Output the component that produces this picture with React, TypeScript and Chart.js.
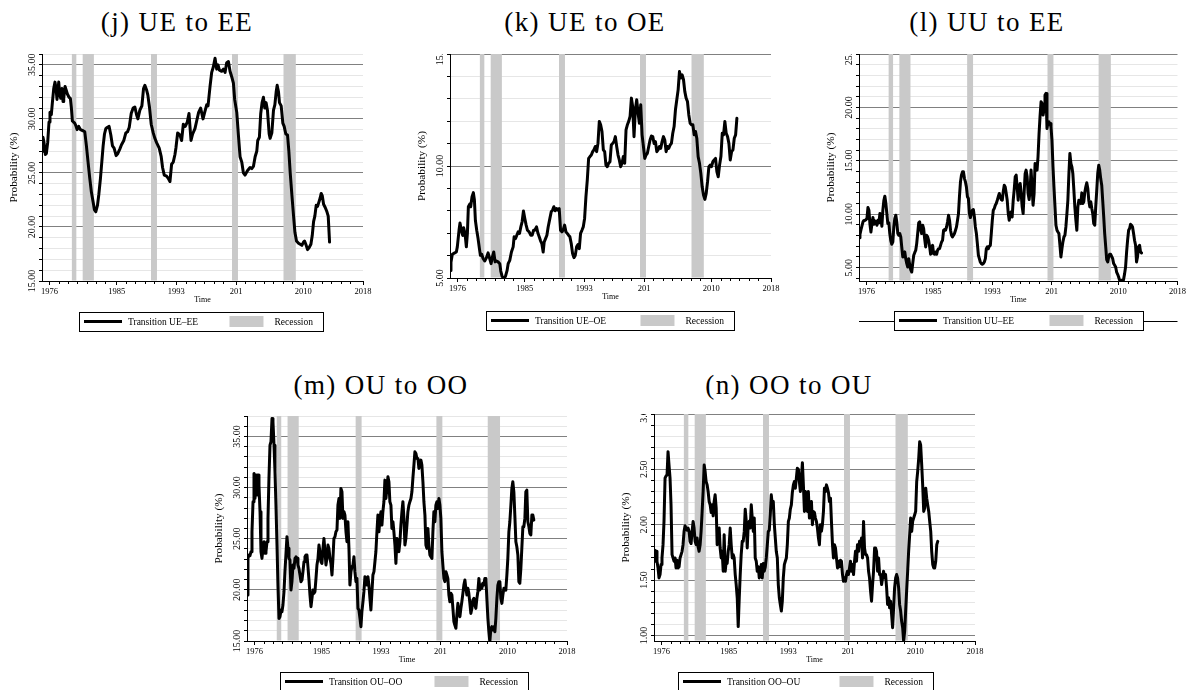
import React, { useEffect, useRef } from "react";
import { Chart, registerables } from "chart.js";
Chart.register(...registerables);

const FONT = "'Liberation Serif', 'Times New Roman', serif";
const RECESSION_COLOR = "#c9c9c9";
const MAJOR_GRID = "rgb(128,128,128)";
const MINOR_GRID = "rgb(230,230,230)";

// ---------------- shared axis data ----------------
const xTickYears = [1976, 1985, 1993, 2001, 2010, 2018];
const xTickLabels = ["1976", "1985", "1993", "201", "2010", "2018"];
const recessionStarts = [1979.0, 1980.45, 1989.6, 2000.45, 2007.35];
const recessionEnds = [1979.6, 1981.95, 1990.4, 2001.25, 2009.0];
const recessionLabel = "Recession";
const yAxisTitle = "Probability (%)";
const xAxisTitle = "Time";

// ---------------- (j) UE to EE ----------------
const ueEeYears = [
  1975.00, 1975.13, 1975.27, 1975.45, 1975.58, 1975.76, 1975.94, 1976.07, 1976.25, 1976.39,
  1976.57, 1976.74, 1976.88, 1977.01, 1977.24, 1977.37, 1977.51, 1977.68, 1977.82, 1977.91,
  1978.09, 1978.40, 1978.62, 1978.80, 1978.94, 1979.07, 1979.38, 1979.52, 1979.70, 1979.92,
  1980.15, 1980.50, 1980.73, 1980.95, 1981.17, 1981.40, 1981.62, 1981.85, 1982.02, 1982.20,
  1982.43, 1982.61, 1982.83, 1983.01, 1983.19, 1983.37, 1983.55, 1983.72, 1983.99, 1984.22,
  1984.44, 1984.66, 1984.93, 1985.16, 1985.42, 1985.65, 1985.96, 1986.23, 1986.45, 1986.68,
  1986.95, 1987.21, 1987.44, 1987.66, 1987.84, 1988.11, 1988.38, 1988.60, 1988.78, 1989.00,
  1989.18, 1989.41, 1989.63, 1989.90, 1990.12, 1990.35, 1990.70, 1990.97, 1991.15, 1991.38,
  1991.69, 1991.91, 1992.14, 1992.36, 1992.58, 1992.81, 1992.94, 1993.17, 1993.48, 1993.70,
  1993.93, 1994.19, 1994.46, 1994.69, 1994.96, 1995.18, 1995.49, 1995.72, 1995.98, 1996.25,
  1996.57, 1996.79, 1997.06, 1997.24, 1997.51, 1997.73, 1997.95, 1998.18, 1998.40, 1998.58,
  1998.76, 1999.07, 1999.30, 1999.52, 1999.74, 1999.97, 2000.19, 2000.41, 2000.64, 2000.81,
  2001.09, 2001.31, 2001.53, 2001.76, 2001.98, 2002.20, 2002.52, 2002.87, 2003.10, 2003.32,
  2003.55, 2003.77, 2003.90, 2004.12, 2004.30, 2004.48, 2004.66, 2004.84, 2005.02, 2005.20,
  2005.43, 2005.56, 2005.79, 2006.01, 2006.19, 2006.37, 2006.50, 2006.68, 2006.81, 2007.04,
  2007.26, 2007.44, 2007.66, 2007.89, 2008.07, 2008.25, 2008.47, 2008.70, 2008.88, 2009.09,
  2009.36, 2009.59, 2009.81, 2010.03, 2010.17, 2010.39, 2010.57, 2010.79, 2011.02, 2011.20,
  2011.38, 2011.55, 2011.73, 2011.91, 2012.09, 2012.27, 2012.40, 2012.54, 2012.72, 2012.94,
  2013.17, 2013.34, 2013.52,
];
const ueEeValues = [
  27.0, 28.3, 27.8, 26.7, 26.8, 27.8, 29.7, 30.6, 30.4, 31.5,
  32.8, 33.4, 32.8, 31.8, 33.4, 32.3, 31.9, 32.8, 31.6, 31.9,
  33.0, 32.3, 32.0, 31.9, 31.0, 29.8, 29.6, 29.4, 29.0, 29.3,
  29.0, 28.9, 28.8, 27.5, 26.0, 24.5, 23.2, 22.3, 21.6, 21.4,
  22.0, 23.0, 24.5, 26.0, 27.5, 28.6, 29.1, 29.2, 29.3, 28.5,
  27.5, 27.3, 26.6, 26.8, 27.2, 27.6, 28.0, 28.7, 28.8, 29.2,
  30.5, 31.0, 31.1, 30.4, 30.0, 30.8, 31.2, 32.8, 33.1, 32.7,
  32.2, 31.0, 29.5, 28.7, 28.2, 27.8, 27.3, 26.5, 25.5, 24.8,
  24.7, 24.5, 24.2, 25.8, 26.0, 26.7, 27.3, 28.7, 28.5, 28.0,
  29.5, 29.3, 29.7, 30.5, 28.0, 28.6, 29.1, 29.8, 30.6, 31.0,
  30.0, 30.6, 31.3, 31.2, 33.0, 34.3, 34.8, 35.6, 34.6, 35.0,
  34.5, 34.4, 34.6, 34.3, 35.2, 35.3, 34.4, 33.9, 33.3, 31.8,
  30.6, 28.5, 26.5, 26.0, 25.0, 24.8, 25.2, 25.5, 25.4, 25.6,
  26.5, 27.0, 28.0, 28.3, 30.5, 31.5, 32.0, 31.0, 31.5, 30.8,
  28.6, 28.2, 28.7, 30.8, 31.3, 32.5, 33.1, 32.5, 31.5, 31.2,
  29.6, 29.3, 28.6, 28.5, 27.0, 25.0, 23.0, 21.0, 19.5, 18.7,
  18.5, 18.4, 18.3, 18.6, 18.7, 18.3, 17.9, 18.1, 18.4, 19.2,
  20.5, 21.0, 22.0, 21.9, 22.3, 22.7, 23.1, 22.9, 22.1, 21.8,
  21.4, 21.0, 18.6,
];
const ueEeMajorTicks = [15, 20, 25, 30, 35];

// ---------------- (k) UE to OE ----------------
const ueOeYears = [
  1975.00, 1975.13, 1975.31, 1975.63, 1975.85, 1975.98, 1976.21, 1976.34, 1976.52, 1976.70,
  1976.83, 1977.01, 1977.19, 1977.33, 1977.46, 1977.64, 1977.77, 1977.95, 1978.13, 1978.27,
  1978.40, 1978.58, 1978.76, 1978.94, 1979.07, 1979.25, 1979.43, 1979.65, 1979.88, 1980.10,
  1980.32, 1980.50, 1980.68, 1980.86, 1981.04, 1981.22, 1981.44, 1981.67, 1981.80, 1981.98,
  1982.20, 1982.43, 1982.65, 1982.79, 1983.01, 1983.23, 1983.46, 1983.59, 1983.77, 1983.95,
  1984.13, 1984.31, 1984.49, 1984.66, 1984.84, 1985.02, 1985.20, 1985.38, 1985.60, 1985.83,
  1986.01, 1986.19, 1986.36, 1986.59, 1986.77, 1986.95, 1987.13, 1987.30, 1987.48, 1987.62,
  1987.80, 1987.98, 1988.15, 1988.38, 1988.56, 1988.74, 1988.91, 1989.09, 1989.27, 1989.45,
  1989.63, 1989.81, 1989.99, 1990.17, 1990.35, 1990.53, 1990.70, 1990.88, 1991.06, 1991.24,
  1991.42, 1991.60, 1991.78, 1991.96, 1992.14, 1992.32, 1992.49, 1992.67, 1992.85, 1993.03,
  1993.21, 1993.39, 1993.57, 1993.75, 1993.93, 1994.11, 1994.28, 1994.46, 1994.64, 1994.82,
  1995.00, 1995.18, 1995.36, 1995.54, 1995.72, 1995.89, 1996.07, 1996.25, 1996.43, 1996.61,
  1996.79, 1996.97, 1997.15, 1997.33, 1997.51, 1997.68, 1997.86, 1998.04, 1998.22, 1998.40,
  1998.58, 1998.76, 1998.94, 1999.12, 1999.30, 1999.47, 1999.65, 1999.83, 2000.01, 2000.19,
  2000.37, 2000.55, 2000.73, 2000.91, 2001.09, 2001.26, 2001.44, 2001.62, 2001.80, 2001.98,
  2002.16, 2002.34, 2002.52, 2002.70, 2002.87, 2003.05, 2003.23, 2003.41, 2003.59, 2003.77,
  2003.95, 2004.13, 2004.31, 2004.49, 2004.66, 2004.84, 2005.02, 2005.20, 2005.38, 2005.56,
  2005.74, 2005.92, 2006.10, 2006.28, 2006.45, 2006.63, 2006.81, 2006.99, 2007.17, 2007.35,
  2007.53, 2007.71, 2007.89, 2008.06, 2008.24, 2008.42, 2008.60, 2008.78, 2008.96, 2009.14,
  2009.32, 2009.50, 2009.68, 2009.85, 2010.03, 2010.21, 2010.39, 2010.57, 2010.75, 2010.93,
  2011.11, 2011.29, 2011.47, 2011.64, 2011.82, 2012.00, 2012.18, 2012.36, 2012.54, 2012.72,
  2012.90, 2013.08, 2013.26, 2013.43,
];
const ueOeValues = [
  5.34, 5.70, 6.06, 6.12, 6.16, 6.39, 7.13, 7.46, 7.13, 6.90,
  7.24, 6.99, 6.39, 6.99, 8.18, 8.30, 8.18, 8.63, 8.81, 8.48,
  7.58, 7.13, 6.76, 6.31, 6.01, 6.06, 5.87, 5.76, 5.90, 6.12,
  5.87, 5.64, 5.94, 6.16, 5.72, 5.76, 5.72, 5.64, 5.31, 5.07,
  5.00, 5.07, 5.34, 5.64, 5.79, 6.16, 6.39, 6.84, 6.76, 6.91,
  7.06, 6.99, 7.28, 7.51, 7.99, 7.66, 7.36, 7.13, 7.06, 6.91,
  6.91, 7.13, 7.13, 7.28, 7.01, 6.84, 6.66, 6.54, 6.16, 6.61,
  6.76, 6.91, 7.28, 7.66, 7.96, 8.03, 8.18, 8.00, 8.10, 8.03,
  8.10, 7.13, 7.06, 7.16, 7.36, 7.06, 6.99, 6.91, 6.84, 6.54,
  6.09, 5.91, 6.01, 6.39, 6.49, 6.31, 6.99, 7.13, 7.28, 7.66,
  8.63, 9.37, 10.34, 10.42, 10.49, 10.64, 10.72, 10.87, 10.64, 11.01,
  11.99, 11.84, 11.54, 10.72, 10.64, 10.04, 9.97, 10.12, 10.19, 10.94,
  11.01, 11.09, 11.31, 10.87, 10.49, 10.27, 9.97, 10.12, 10.42, 10.12,
  11.61, 11.84, 11.99, 12.21, 13.03, 12.66, 11.31, 12.51, 12.96, 12.36,
  11.91, 12.73, 11.39, 10.87, 10.34, 10.49, 10.57, 10.87, 11.16, 11.34,
  11.31, 11.01, 11.09, 10.64, 10.72, 10.87, 10.79, 11.09, 11.31, 11.16,
  10.64, 10.87, 10.79, 10.94, 11.01, 11.46, 11.76, 12.51, 12.96, 13.40,
  14.22, 13.93, 14.07, 13.85, 13.33, 13.03, 12.88, 12.28, 11.91, 11.84,
  11.84, 11.39, 11.54, 11.24, 10.42, 10.12, 9.67, 9.07, 8.70, 8.51,
  8.78, 9.30, 9.97, 10.04, 9.97, 10.19, 10.27, 10.34, 9.75, 9.52,
  10.04, 10.42, 11.46, 11.39, 11.99, 11.46, 11.31, 11.01, 10.27, 10.64,
  10.72, 11.24, 11.39, 12.13,
];
const ueOeMajorTicks = [5, 10, 15];

// ---------------- sampling dates shared by (l), (m), (n) ----------------
const gridYears = [
  1975.00, 1975.13, 1975.27, 1975.40, 1975.54, 1975.67, 1975.81, 1975.94, 1976.07, 1976.21,
  1976.34, 1976.48, 1976.61, 1976.75, 1976.88, 1977.01, 1977.15, 1977.28, 1977.42, 1977.55,
  1977.69, 1977.82, 1977.95, 1978.09, 1978.22, 1978.36, 1978.49, 1978.63, 1978.76, 1978.89,
  1979.03, 1979.16, 1979.30, 1979.43, 1979.57, 1979.70, 1979.83, 1979.97, 1980.10, 1980.24,
  1980.37, 1980.51, 1980.64, 1980.77, 1980.91, 1981.04, 1981.18, 1981.31, 1981.45, 1981.58,
  1981.72, 1981.85, 1981.98, 1982.12, 1982.25, 1982.39, 1982.52, 1982.66, 1982.79, 1982.92,
  1983.06, 1983.19, 1983.33, 1983.46, 1983.60, 1983.73, 1983.86, 1984.00, 1984.13, 1984.27,
  1984.40, 1984.54, 1984.67, 1984.80, 1984.94, 1985.07, 1985.21, 1985.34, 1985.48, 1985.61,
  1985.74, 1985.88, 1986.01, 1986.15, 1986.28, 1986.42, 1986.55, 1986.68, 1986.82, 1986.95,
  1987.09, 1987.22, 1987.36, 1987.49, 1987.62, 1987.76, 1987.89, 1988.03, 1988.16, 1988.30,
  1988.43, 1988.56, 1988.70, 1988.83, 1988.97, 1989.10, 1989.24, 1989.37, 1989.50, 1989.64,
  1989.77, 1989.91, 1990.04, 1990.18, 1990.31, 1990.44, 1990.58, 1990.71, 1990.85, 1990.98,
  1991.12, 1991.25, 1991.38, 1991.52, 1991.65, 1991.79, 1991.92, 1992.06, 1992.19, 1992.32,
  1992.46, 1992.59, 1992.73, 1992.86, 1993.00, 1993.13, 1993.26, 1993.40, 1993.53, 1993.67,
  1993.80, 1993.94, 1994.07, 1994.20, 1994.34, 1994.47, 1994.61, 1994.74, 1994.88, 1995.01,
  1995.15, 1995.28, 1995.41, 1995.55, 1995.68, 1995.82, 1995.95, 1996.09, 1996.22, 1996.35,
  1996.49, 1996.62, 1996.76, 1996.89, 1997.03, 1997.16, 1997.29, 1997.43, 1997.56, 1997.70,
  1997.83, 1997.97, 1998.10, 1998.23, 1998.37, 1998.50, 1998.64, 1998.77, 1998.91, 1999.04,
  1999.17, 1999.31, 1999.44, 1999.58, 1999.71, 1999.85, 1999.98, 2000.11, 2000.25, 2000.38,
  2000.52, 2000.65, 2000.79, 2000.92, 2001.05, 2001.19, 2001.32, 2001.46, 2001.59, 2001.73,
  2001.86, 2001.99, 2002.13, 2002.26, 2002.40, 2002.53, 2002.67, 2002.80, 2002.93, 2003.07,
  2003.20, 2003.34, 2003.47, 2003.61, 2003.74, 2003.87, 2004.01, 2004.14, 2004.28, 2004.41,
  2004.55, 2004.68, 2004.81, 2004.95, 2005.08, 2005.22, 2005.35, 2005.49, 2005.62, 2005.75,
  2005.89, 2006.02, 2006.16, 2006.29, 2006.43, 2006.56, 2006.69, 2006.83, 2006.96, 2007.10,
  2007.23, 2007.37, 2007.50, 2007.63, 2007.77, 2007.90, 2008.04, 2008.17, 2008.31, 2008.44,
  2008.58, 2008.71, 2008.84, 2008.98, 2009.11, 2009.25, 2009.38, 2009.52, 2009.65, 2009.78,
  2009.92, 2010.05, 2010.19, 2010.32, 2010.46, 2010.59, 2010.72, 2010.86, 2010.99, 2011.13,
  2011.26, 2011.40, 2011.53, 2011.66, 2011.80, 2011.93, 2012.07, 2012.20, 2012.34, 2012.47,
  2012.60, 2012.74, 2012.88, 2013.01, 2013.14, 2013.28, 2013.41, 2013.54,
];

// ---------------- (l) UU to EE ----------------
const uuEeValues = [
  7.81, 8.10, 8.55, 8.90, 9.28, 9.42, 9.41, 9.50, 9.59, 10.63,
  10.38, 9.06, 8.34, 9.13, 9.69, 9.06, 9.38, 9.28, 8.97, 9.44,
  9.19, 10.06, 9.59, 8.88, 10.38, 11.31, 11.69, 11.00, 10.06, 9.13,
  9.19, 8.19, 7.50, 7.19, 7.41, 8.81, 9.59, 9.91, 9.28, 8.19,
  8.03, 8.19, 7.88, 6.94, 6.00, 6.31, 6.47, 5.84, 5.38, 5.06,
  5.84, 5.22, 4.81, 4.59, 5.38, 6.16, 6.40, 6.63, 7.25, 8.19,
  9.19, 9.28, 8.56, 8.19, 8.97, 8.66, 7.72, 6.94, 8.03, 7.88,
  7.56, 6.94, 6.25, 6.78, 7.09, 6.31, 6.25, 6.47, 6.25, 6.63,
  6.78, 6.78, 7.09, 7.41, 7.56, 8.50, 8.56, 8.50, 8.81, 9.28,
  9.91, 9.44, 8.50, 8.03, 7.88, 8.03, 8.19, 8.50, 8.81, 9.44,
  10.06, 11.63, 13.03, 13.66, 13.97, 13.97, 13.34, 13.03, 12.56, 11.63,
  11.47, 10.06, 9.69, 10.06, 10.38, 10.44, 9.75, 8.81, 8.19, 7.25,
  6.16, 5.84, 5.53, 5.38, 5.31, 5.38, 5.53, 5.84, 6.78, 6.94,
  6.78, 7.00, 7.09, 8.19, 9.44, 10.38, 10.53, 10.84, 11.00, 11.31,
  11.63, 11.94, 11.63, 11.38, 11.31, 12.09, 12.72, 12.56, 11.94, 11.31,
  10.06, 9.44, 10.06, 10.22, 9.75, 11.31, 12.25, 13.50, 13.66, 12.56,
  11.31, 12.56, 12.88, 11.94, 10.69, 10.06, 11.94, 13.81, 14.13, 13.50,
  11.94, 11.38, 12.25, 14.13, 12.56, 10.84, 11.94, 14.75, 14.59, 14.13,
  15.38, 17.56, 19.13, 20.53, 20.38, 19.28, 19.75, 21.16, 21.31, 18.03,
  18.66, 18.44, 18.50, 18.19, 16.94, 14.44, 12.56, 10.69, 8.97, 8.50,
  8.34, 8.19, 7.09, 6.00, 6.78, 7.41, 7.88, 8.03, 8.81, 10.06,
  11.31, 13.81, 15.69, 14.75, 14.44, 13.81, 12.25, 10.69, 9.44, 8.50,
  10.69, 11.31, 11.16, 11.00, 12.00, 11.00, 11.16, 12.09, 12.56, 12.94,
  12.41, 11.31, 10.69, 11.16, 10.53, 10.06, 9.13, 8.97, 10.69, 12.25,
  13.81, 14.59, 14.13, 13.34, 12.72, 11.31, 9.75, 8.19, 6.94, 5.75,
  5.53, 6.00, 6.25, 6.25, 6.06, 5.84, 5.38, 5.22, 5.06, 4.59,
  4.38, 4.13, 3.81, 3.75, 3.81, 3.66, 3.88, 4.44, 5.06, 6.47,
  7.56, 8.50, 8.66, 9.06, 8.97, 8.81, 8.19, 7.56, 7.09, 5.53,
  6.00, 6.94, 7.09, 6.47, 6.38,
];
const uuEeMajorTicks = [5, 10, 15, 20, 25];

// ---------------- (m) OU to OO ----------------
const ouOoValues = [
  19.50, 23.08, 23.40, 23.34, 23.73, 25.68, 28.62, 31.38, 28.94, 31.22,
  29.27, 31.22, 30.24, 27.64, 23.73, 23.08, 24.06, 24.71, 23.57, 23.73,
  24.71, 26.99, 30.90, 34.15, 34.48, 36.76, 36.43, 34.15, 31.55, 28.29,
  24.38, 20.47, 17.21, 17.38, 18.03, 17.87, 18.52, 19.82, 21.78, 23.57,
  25.20, 24.06, 23.08, 22.92, 19.98, 20.80, 22.43, 22.10, 23.08, 23.24,
  23.08, 22.43, 22.10, 21.45, 20.80, 20.96, 21.78, 22.75, 23.24, 23.40,
  23.40, 22.26, 20.96, 19.50, 18.36, 19.17, 19.98, 19.66, 19.82, 21.12,
  22.43, 23.08, 24.38, 23.73, 22.75, 22.59, 24.06, 25.03, 23.73, 22.43,
  23.08, 24.38, 24.06, 23.08, 22.59, 21.45, 23.08, 25.03, 25.20, 25.68,
  25.85, 28.29, 28.94, 26.99, 29.92, 29.59, 26.99, 27.64, 27.31, 25.68,
  24.71, 26.66, 24.06, 20.47, 21.78, 22.26, 22.43, 23.24, 21.78, 20.80,
  21.12, 18.19, 18.03, 17.21, 16.40, 17.87, 18.84, 19.82, 21.29, 21.12,
  20.47, 21.29, 20.47, 19.17, 18.03, 19.82, 21.45, 21.78, 22.75, 23.73,
  25.68, 27.31, 25.68, 26.99, 27.64, 26.34, 27.64, 28.62, 30.73, 28.94,
  29.92, 31.06, 30.57, 28.62, 28.29, 26.01, 26.66, 25.68, 24.38, 22.59,
  25.03, 24.71, 23.73, 24.71, 26.34, 27.64, 28.62, 26.99, 24.38, 25.03,
  26.34, 27.64, 28.29, 28.62, 28.94, 29.59, 30.90, 32.20, 33.50, 33.34,
  32.85, 32.85, 31.87, 32.36, 32.69, 32.20, 30.57, 28.62, 27.31, 24.38,
  24.06, 26.01, 24.38, 23.40, 23.24, 23.08, 25.68, 27.64, 26.66, 28.29,
  28.62, 27.96, 28.94, 28.29, 26.99, 23.73, 22.43, 21.12, 20.80, 21.78,
  21.45, 21.12, 19.50, 18.84, 19.66, 19.50, 18.19, 16.89, 16.56, 16.24,
  17.54, 18.68, 17.87, 17.38, 18.19, 18.84, 19.66, 20.47, 20.96, 20.15,
  19.50, 20.15, 19.66, 18.68, 17.70, 18.19, 19.01, 19.17, 18.52, 18.19,
  19.17, 19.82, 21.12, 19.98, 20.47, 20.15, 20.64, 20.47, 21.12, 21.12,
  19.17, 17.21, 15.91, 14.93, 16.24, 16.40, 16.07, 16.40, 15.91, 17.21,
  19.17, 20.47, 20.80, 20.80, 19.17, 18.68, 19.50, 20.15, 20.15, 19.98,
  21.45, 23.08, 25.68, 26.66, 28.29, 29.92, 30.57, 29.59, 27.31, 24.71,
  24.22, 23.40, 20.80, 20.64, 22.10, 24.06, 26.17, 26.17, 26.99, 29.59,
  29.75, 26.66, 26.17, 25.52, 25.36, 27.31, 27.31, 26.82,
];
const ouOoMajorTicks = [15, 20, 25, 30, 35];

// ---------------- (n) OO to OU ----------------
const ooOuValues = [
  1.67, 1.77, 1.76, 1.67, 1.61, 1.52, 1.55, 1.64, 1.70, 1.82,
  2.03, 2.42, 2.44, 2.45, 2.66, 2.54, 2.42, 2.18, 1.73, 1.70,
  1.67, 1.70, 1.61, 1.68, 1.61, 1.62, 1.70, 1.73, 1.76, 1.82,
  1.94, 1.99, 1.97, 1.95, 1.97, 1.94, 1.85, 1.83, 1.94, 2.03,
  1.97, 1.85, 1.82, 1.88, 1.80, 1.76, 1.82, 1.94, 2.12, 2.30,
  2.54, 2.48, 2.39, 2.36, 2.30, 2.21, 2.18, 2.11, 2.18, 2.08,
  2.21, 2.27, 2.15, 1.82, 1.94, 1.97, 1.79, 1.70, 1.76, 1.58,
  1.91, 1.58, 1.67, 1.65, 1.76, 1.82, 1.97, 1.82, 1.70, 1.73,
  1.70, 1.55, 1.46, 1.34, 1.08, 1.34, 1.55, 1.73, 1.85, 1.85,
  1.94, 2.14, 2.03, 1.79, 2.00, 2.03, 1.97, 2.18, 2.06, 1.94,
  2.06, 1.70, 1.67, 1.58, 1.62, 1.52, 1.55, 1.64, 1.52, 1.65,
  1.58, 1.62, 1.70, 1.82, 1.94, 1.95, 2.09, 2.27, 2.18, 2.21,
  2.00, 1.88, 1.76, 1.70, 1.46, 1.34, 1.28, 1.22, 1.31, 1.52,
  1.64, 1.67, 1.70, 1.82, 2.03, 2.06, 2.14, 2.18, 2.29, 2.36,
  2.39, 2.33, 2.42, 2.51, 2.50, 2.39, 2.30, 2.42, 2.56, 2.36,
  2.12, 2.30, 2.27, 2.12, 2.30, 2.06, 2.15, 2.21, 2.00, 2.12,
  2.11, 2.06, 2.03, 1.97, 1.88, 1.82, 2.00, 1.94, 2.00, 2.12,
  2.33, 2.30, 2.36, 2.33, 2.29, 2.21, 2.24, 2.03, 1.82, 1.70,
  1.82, 1.79, 1.70, 1.61, 1.67, 1.62, 1.68, 1.67, 1.55, 1.49,
  1.52, 1.49, 1.55, 1.58, 1.55, 1.61, 1.67, 1.58, 1.64, 1.55,
  1.67, 1.76, 1.67, 1.82, 1.76, 1.85, 1.82, 1.88, 1.70, 2.03,
  1.79, 1.73, 1.73, 1.70, 1.58, 1.52, 1.40, 1.31, 1.46, 1.58,
  1.79, 1.79, 1.76, 1.58, 1.70, 1.55, 1.55, 1.46, 1.52, 1.58,
  1.52, 1.55, 1.43, 1.28, 1.34, 1.25, 1.31, 1.19, 1.07, 1.25,
  1.43, 1.52, 1.55, 1.52, 1.43, 1.28, 1.22, 1.13, 1.07, 0.95,
  1.04, 1.22, 1.40, 1.58, 1.76, 1.91, 2.06, 1.94, 2.03, 2.06,
  2.09, 2.12, 2.39, 2.48, 2.60, 2.75, 2.72, 2.54, 2.36, 2.12,
  2.15, 2.33, 2.24, 2.18, 2.12, 2.03, 1.94, 1.76, 1.64, 1.61,
  1.61, 1.67, 1.82, 1.85,
];
const ooOuMajorTicks = [1.0, 1.5, 2.0, 2.5, 3.0];

// ---------------- layout (positions & sizes only) ----------------
type Box = { left: number; top: number; width: number; height: number };
type PanelSpec = {
  title: string;
  legendLabel: string;
  years: number[];
  values: number[];
  yMin: number;
  yMax: number;
  yStep: number;
  yMajor: number[];
  canvas: Box;
  pad: { left: number; right: number; top: number; bottom: number };
  titleX: number;
  titleTop: number;
  legend: { left: number; right: number; top: number; height: number; sideLines: boolean };
};

const panels: PanelSpec[] = [
  {
    title: "(j) UE to EE", legendLabel: "Transition UE\u2013EE",
    years: ueEeYears, values: ueEeValues, yMin: 15, yMax: 36, yStep: 1, yMajor: ueEeMajorTicks,
    canvas: { left: 0, top: 53, width: 380, height: 290 },
    pad: { left: 0, right: 17, top: 1, bottom: 38 },
    titleX: 177, titleTop: 9.4,
    legend: { left: 79, right: 323, top: 312, height: 19, sideLines: false },
  },
  {
    title: "(k) UE to OE", legendLabel: "Transition UE\u2013OE",
    years: ueOeYears, values: ueOeValues, yMin: 5, yMax: 15, yStep: 1, yMajor: ueOeMajorTicks,
    canvas: { left: 400, top: 53, width: 390, height: 290 },
    pad: { left: 8, right: 19, top: 1, bottom: 41 },
    titleX: 585, titleTop: 9.4,
    legend: { left: 486, right: 734, top: 311, height: 19, sideLines: false },
  },
  {
    title: "(l) UU to EE", legendLabel: "Transition UU\u2013EE",
    years: gridYears.slice(0, uuEeValues.length), values: uuEeValues, yMin: 3.75, yMax: 25, yStep: 1, yMajor: uuEeMajorTicks,
    canvas: { left: 810, top: 53, width: 378, height: 290 },
    pad: { left: 7, right: 9, top: 1, bottom: 38 },
    titleX: 987, titleTop: 9.4,
    legend: { left: 894, right: 1143, top: 311, height: 19, sideLines: true },
  },
  {
    title: "(m) OU to OO", legendLabel: "Transition OU\u2013OO",
    years: gridYears.slice(0, ouOoValues.length), values: ouOoValues, yMin: 15, yMax: 37, yStep: 1, yMajor: ouOoMajorTicks,
    canvas: { left: 200, top: 415, width: 380, height: 275 },
    pad: { left: 5, right: 13, top: 1, bottom: 25 },
    titleX: 381, titleTop: 372.4,
    legend: { left: 280, right: 528, top: 672, height: 19, sideLines: false },
  },
  {
    title: "(n) OO to OU", legendLabel: "Transition OO\u2013OU",
    years: gridYears.slice(0, ooOuValues.length), values: ooOuValues, yMin: 0.95, yMax: 3.0, yStep: 0.1, yMajor: ooOuMajorTicks,
    canvas: { left: 600, top: 413, width: 390, height: 277 },
    pad: { left: 12, right: 15, top: 1, bottom: 25 },
    titleX: 789, titleTop: 372.4,
    legend: { left: 678, right: 933, top: 672, height: 19, sideLines: false },
  },
];

function buildAxisTicks(min: number, max: number, step: number): number[] {
  const out: number[] = [];
  const n0 = Math.ceil(min / step - 1e-6);
  const n1 = Math.floor(max / step + 1e-6);
  for (let n = n0; n <= n1; n++) out.push(Number((n * step).toFixed(4)));
  return out;
}

function Panel({ spec }: { spec: PanelSpec }) {
  const ref = useRef<HTMLCanvasElement | null>(null);

  useEffect(() => {
    const canvas = ref.current;
    if (!canvas) return;
    const yTicks = buildAxisTicks(spec.yMin, spec.yMax, spec.yStep);
    const isMajor = (v: number) => spec.yMajor.some((m) => Math.abs(m - v) < 1e-6);

    const decor = {
      id: "panelDecor",
      beforeDatasetsDraw(chart: any) {
        const { ctx, chartArea: ca } = chart;
        const xs = chart.scales.x;
        ctx.save();
        ctx.beginPath();
        ctx.rect(ca.left + 0.5, ca.top, ca.right - ca.left, ca.bottom - ca.top - 0.5);
        ctx.clip();
        ctx.fillStyle = RECESSION_COLOR;
        recessionStarts.forEach((s, i) => {
          const x0 = xs.getPixelForValue(s);
          const x1 = xs.getPixelForValue(recessionEnds[i]);
          ctx.fillRect(x0, ca.top, x1 - x0, ca.bottom - ca.top);
        });
        ctx.restore();
      },
      afterDraw(chart: any) {
        const { ctx, chartArea: ca } = chart;
        const xs = chart.scales.x;
        const ys = chart.scales.y;
        // rotated y tick labels, clipped at the top of the plot region
        ctx.save();
        ctx.beginPath();
        ctx.rect(0, ca.top, chart.width, chart.height - ca.top);
        ctx.clip();
        ctx.fillStyle = "#000";
        ctx.font = `10px ${FONT}`;
        ctx.textAlign = "center";
        ctx.textBaseline = "middle";
        spec.yMajor.forEach((v) => {
          const py = ys.getPixelForValue(v);
          ctx.save();
          ctx.translate(ca.left - 10, py);
          ctx.rotate(-Math.PI / 2);
          ctx.fillText(v.toFixed(2), 0, 0);
          ctx.restore();
        });
        ctx.restore();

        // minor x ticks
        ctx.save();
        ctx.strokeStyle = "#000";
        ctx.lineWidth = 1;
        ctx.beginPath();
        for (let i = 0; i < xTickYears.length - 1; i++) {
          for (let t = xTickYears[i] + 1.25; t < xTickYears[i + 1] - 0.9; t += 1.25) {
            const px = Math.round(xs.getPixelForValue(t)) + 0.5;
            ctx.moveTo(px, ca.bottom);
            ctx.lineTo(px, ca.bottom + 3);
          }
        }
        ctx.stroke();
        ctx.restore();

        // legend
        const lg = spec.legend;
        const L = lg.left - spec.canvas.left;
        const R = lg.right - spec.canvas.left;
        const T = lg.top - spec.canvas.top;
        const H = lg.height;
        const midY = T + H / 2;
        ctx.save();
        if (lg.sideLines) {
          ctx.strokeStyle = "#000";
          ctx.lineWidth = 1;
          ctx.beginPath();
          ctx.moveTo(ca.left, Math.round(midY) + 0.5);
          ctx.lineTo(ca.right, Math.round(midY) + 0.5);
          ctx.stroke();
        }
        ctx.fillStyle = "#fff";
        ctx.fillRect(L, T, R - L, H);
        ctx.strokeStyle = "#000";
        ctx.lineWidth = 1;
        ctx.strokeRect(Math.round(L) + 0.5, Math.round(T) + 0.5, Math.round(R - L), Math.round(H));
        ctx.lineWidth = 3;
        ctx.beginPath();
        ctx.moveTo(L + 5, midY);
        ctx.lineTo(L + 43, midY);
        ctx.stroke();
        ctx.fillStyle = "#000";
        ctx.font = `9.5px ${FONT}`;
        ctx.textAlign = "left";
        ctx.textBaseline = "middle";
        ctx.fillText(spec.legendLabel, L + 49, midY + 0.5);
        const rw = ctx.measureText(recessionLabel).width;
        const rx = R - 10 - rw;
        ctx.fillText(recessionLabel, rx, midY + 0.5);
        ctx.fillStyle = RECESSION_COLOR;
        ctx.fillRect(rx - 11 - 34, midY - 5.5, 34, 11);
        ctx.restore();
      },
    };

    const chart = new Chart(canvas, {
      type: "line",
      data: {
        datasets: [
          {
            label: spec.legendLabel,
            data: spec.years.map((x, i) => ({ x, y: spec.values[i] })),
            borderColor: "#000",
            borderWidth: 3,
            pointRadius: 0,
            tension: 0,
            fill: false,
            borderJoinStyle: "round",
            borderCapStyle: "round",
          },
        ],
      },
      options: {
        animation: false,
        responsive: false,
        maintainAspectRatio: false,
        devicePixelRatio: 1,
        layout: { autoPadding: false, padding: spec.pad },
        plugins: {
          legend: { display: false },
          tooltip: { enabled: false },
          title: { display: false },
        },
        scales: {
          x: {
            type: "linear",
            min: 1975,
            max: 2018,
            afterBuildTicks: (s: any) => {
              s.ticks = xTickYears.map((v) => ({ value: v }));
            },
            afterFit: (s: any) => {
              s.height = 24;
            },
            ticks: {
              autoSkip: false,
              maxRotation: 0,
              minRotation: 0,
              padding: 2,
              color: "#000",
              font: { family: FONT, size: 8.5 },
              callback: (_v: any, i: number) => xTickLabels[i],
            },
            grid: { drawOnChartArea: false, drawTicks: true, tickLength: 4, tickColor: "#000" },
            border: { display: true, color: "#000", width: 1 },
            title: {
              display: true,
              text: xAxisTitle,
              color: "#000",
              font: { family: FONT, size: 8 },
              padding: { top: 0, bottom: 0 },
            },
          },
          y: {
            type: "linear",
            min: spec.yMin,
            max: spec.yMax,
            afterBuildTicks: (s: any) => {
              s.ticks = yTicks.map((v) => ({ value: v }));
            },
            afterFit: (s: any) => {
              s.width = 42;
            },
            ticks: { display: false },
            grid: {
              color: (c: any) => (c.tick && isMajor(c.tick.value) ? MAJOR_GRID : MINOR_GRID),
              lineWidth: 1,
              drawTicks: true,
              tickLength: 3,
              tickColor: "#000",
            },
            border: { display: true, color: "#000", width: 1 },
            title: {
              display: true,
              text: yAxisTitle,
              color: "#000",
              font: { family: FONT, size: 11.3 },
              padding: { top: 7, bottom: 0 },
            },
          },
        },
      } as any,
      plugins: [decor],
    });
    return () => chart.destroy();
  }, [spec]);

  return (
    <>
      <div
        style={{
          position: "absolute",
          left: spec.titleX - 200,
          top: spec.titleTop,
          width: 400,
          textAlign: "center",
          fontFamily: FONT,
          fontSize: 27,
          lineHeight: "27px",
          letterSpacing: "1.4px",
          color: "#000",
          whiteSpace: "nowrap",
        }}
      >
        {spec.title}
      </div>
      <canvas
        ref={ref}
        width={spec.canvas.width}
        height={spec.canvas.height}
        style={{
          position: "absolute",
          left: spec.canvas.left,
          top: spec.canvas.top,
          width: spec.canvas.width,
          height: spec.canvas.height,
        }}
      />
    </>
  );
}

export default function App() {
  return (
    <div
      style={{
        position: "absolute",
        left: 0,
        top: 0,
        width: 1188,
        height: 690,
        overflow: "hidden",
        background: "#fff",
      }}
    >
      {panels.map((p) => (
        <Panel key={p.title} spec={p} />
      ))}
    </div>
  );
}
